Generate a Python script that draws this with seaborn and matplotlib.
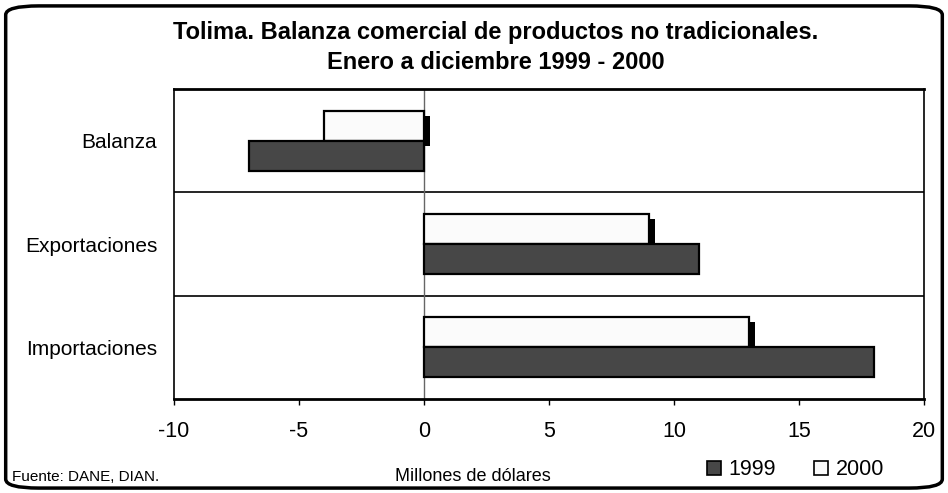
import pandas as pd
import seaborn as sns
import matplotlib.pyplot as plt
import matplotlib.patheffects as pe
from matplotlib.patches import FancyBboxPatch, Patch

# data (millones de dólares)
categories = ["Balanza", "Exportaciones", "Importaciones"]
years = ["1999", "2000"]
values_1999 = [-7, 11, 18]
values_2000 = [-4, 9, 13]

df = pd.DataFrame({
    "categoria": categories * 2,
    "anio": ["1999"] * 3 + ["2000"] * 3,
    "valor": values_1999 + values_2000,
})

sns.set_theme(style="white")
plt.rcParams["font.family"] = ["Liberation Sans", "DejaVu Sans"]
plt.rcParams["text.color"] = "black"
plt.rcParams["xtick.color"] = "black"
plt.rcParams["ytick.color"] = "black"

fig = plt.figure(figsize=(9.48, 4.93), dpi=100)
ax = fig.add_axes([174 / 948, 1 - 399 / 493, 750 / 948, 310 / 493])

colors = {"2000": "#fbfbfb", "1999": "#474747"}
sns.barplot(
    data=df, y="categoria", x="valor", hue="anio",
    hue_order=["2000", "1999"], order=categories,
    palette=colors, width=0.58, orient="h",
    edgecolor="black", linewidth=1.6, saturation=1,
    legend=False, ax=ax,
)

# shadow only on the 2000 bars, 1999 bars drawn on top of it
for bar in ax.containers[0]:
    bar.set_path_effects([
        pe.SimplePatchShadow(offset=(4.5, -3.5), shadow_rgbFace="black", alpha=1),
        pe.Normal(),
    ])
    bar.set_zorder(2)
for bar in ax.containers[1]:
    bar.set_zorder(3)

ax.set_xlim(-10, 20)
ax.set_xticks([-10, -5, 0, 5, 10, 15, 20])
ax.set_xticklabels(["-10", "-5", "0", "5", "10", "15", "20"])
ax.set_ylim(2.5, -0.5)

# separators between categories and zero line
for y in [0.5, 1.5]:
    ax.axhline(y, color="black", linewidth=1.2, zorder=1)
ax.axvline(0, color="#666666", linewidth=1.0, zorder=1)

ax.set_xlabel("")
ax.set_ylabel("")
ax.tick_params(axis="x", bottom=True, length=4, width=1, color="black",
               labelsize=15.5, pad=12)
ax.tick_params(axis="y", left=False, length=0, labelsize=15, pad=12)
for s in ax.spines.values():
    s.set_color("black")
    s.set_linewidth(1.2)
ax.spines["bottom"].set_linewidth(2)
ax.spines["top"].set_linewidth(2)

fig.text(0.523, 0.935, "Tolima. Balanza comercial de productos no tradicionales.",
         ha="center", va="center", fontsize=17, fontweight="bold")
fig.text(0.523, 0.874, "Enero a diciembre 1999 - 2000",
         ha="center", va="center", fontsize=17, fontweight="bold")
fig.text(0.0127, 0.0325, "Fuente: DANE, DIAN.", ha="left", va="center", fontsize=11)
fig.text(0.499, 0.0325, "Millones de dólares", ha="center", va="center", fontsize=13)

handles = [Patch(facecolor=colors[y], edgecolor="black", linewidth=1.2) for y in years]
fig.legend(handles, years, loc="center", bbox_to_anchor=(0.839, 0.0467), ncol=2,
           frameon=False, fontsize=15.5, handlelength=0.65, handleheight=0.65,
           handletextpad=0.33, columnspacing=1.8, borderpad=0, borderaxespad=0)

frame = FancyBboxPatch((0.006, 0.01), 0.988, 0.978, transform=fig.transFigure,
                       boxstyle="round,pad=0,rounding_size=0.035",
                       facecolor="none", edgecolor="black", linewidth=2.5,
                       mutation_aspect=0.52)
fig.patches.append(frame)

fig.savefig("out.png", dpi=100)
